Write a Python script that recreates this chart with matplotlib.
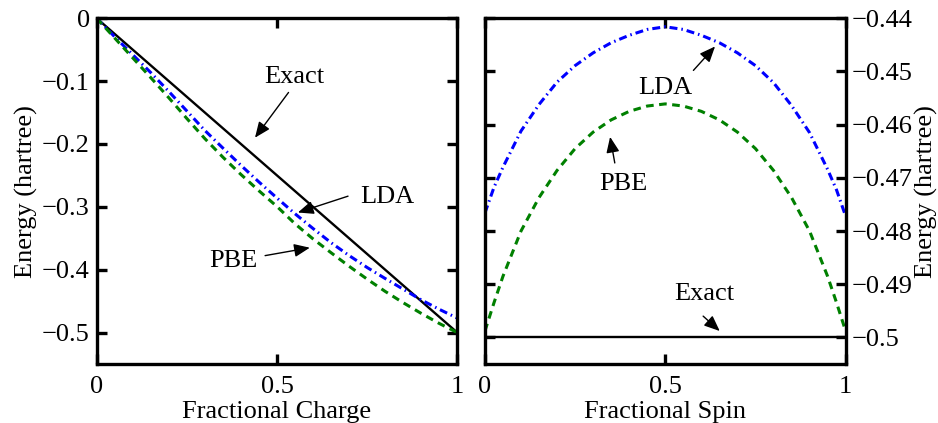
import numpy as np
import matplotlib
matplotlib.use('Agg')
import matplotlib.pyplot as plt

plt.rcParams['font.family'] = ['Liberation Serif', 'DejaVu Serif']
plt.rcParams['font.size'] = 19
plt.rcParams['axes.linewidth'] = 2.4

# fractional charge panel
x_charge = [0, 0.05, 0.1, 0.15, 0.2, 0.25, 0.3, 0.35, 0.4, 0.45, 0.5,
            0.55, 0.6, 0.65, 0.7, 0.75, 0.8, 0.85, 0.9, 0.95, 1.0]
lda_charge = [0, -0.0295, -0.058, -0.0865, -0.1165, -0.1475, -0.1785, -0.2065,
              -0.2340, -0.2605, -0.2860, -0.3110, -0.3345, -0.3570, -0.3775,
              -0.3965, -0.4140, -0.4310, -0.4480, -0.4630, -0.4770]
pbe_charge = [0, -0.0315, -0.063, -0.0945, -0.1265, -0.1595, -0.1915, -0.2210,
              -0.2485, -0.2745, -0.2995, -0.3270, -0.3510, -0.3730, -0.3945,
              -0.4150, -0.4345, -0.4525, -0.4695, -0.4855, -0.5000]
x_exact_charge = [0, 1]
exact_charge = [0, -0.5]

# fractional spin panel
x_spin = [0, 0.025, 0.05, 0.1, 0.15, 0.2, 0.25, 0.3, 0.35, 0.4, 0.45, 0.5,
          0.55, 0.6, 0.65, 0.7, 0.75, 0.8, 0.85, 0.9, 0.95, 0.975, 1.0]
lda_spin = [-0.4766, -0.4718, -0.4680, -0.4612, -0.4562, -0.4520, -0.4489,
            -0.4465, -0.4446, -0.4432, -0.4421, -0.4416, -0.4421, -0.4432,
            -0.4446, -0.4465, -0.4489, -0.4521, -0.4564, -0.4615, -0.4684,
            -0.4723, -0.4772]
pbe_spin = [-0.4988, -0.4935, -0.4885, -0.4800, -0.4737, -0.4686, -0.4645,
            -0.4614, -0.4591, -0.4575, -0.4565, -0.4561, -0.4565, -0.4575,
            -0.4591, -0.4614, -0.4645, -0.4686, -0.4737, -0.4800, -0.4885,
            -0.4935, -0.4988]
x_exact_spin = [0, 1]
exact_spin = [-0.5, -0.5]

xticks = [0, 0.5, 1]
xticklabels = ['0', '0.5', '1']
yticks_charge = [0, -0.1, -0.2, -0.3, -0.4, -0.5]
yticklabels_charge = ['0', '\u22120.1', '\u22120.2', '\u22120.3', '\u22120.4', '\u22120.5']
yticks_spin = [-0.44, -0.45, -0.46, -0.47, -0.48, -0.49, -0.5]
yticklabels_spin = ['\u22120.44', '\u22120.45', '\u22120.46', '\u22120.47',
                    '\u22120.48', '\u22120.49', '\u22120.5']

blue = '#0000ff'
green = '#008000'
dash = (0, (2.5, 1.8))
dashdot = (0, (2.6, 1.3, 0.5, 1.3))
arrow = dict(arrowstyle='-|>,head_length=0.5,head_width=0.21', color='k',
             lw=1.0, shrinkA=0, shrinkB=0)

fig = plt.figure(figsize=(9.38, 4.23), dpi=100)
ax1 = fig.add_axes([0.1031, 0.1395, 0.3844, 0.8173])
ax2 = fig.add_axes([0.5170, 0.1395, 0.3845, 0.8173])

# left
ax1.plot(x_exact_charge, exact_charge, color='k', lw=1.7)
ax1.plot(x_charge, lda_charge, color=blue, lw=2.2, ls=dashdot)
ax1.plot(x_charge, pbe_charge, color=green, lw=2.2, ls=dash)
ax1.set_xlim(0, 1)
ax1.set_ylim(-0.55, 0)
ax1.set_xticks(xticks)
ax1.set_xticklabels(xticklabels)
ax1.set_yticks(yticks_charge)
ax1.set_yticklabels(yticklabels_charge)
ax1.tick_params(direction='in', length=7, width=2.4, top=True, right=True,
                pad=5)
ax1.tick_params(axis='x', pad=9)
ax1.set_xlabel('Fractional Charge')
ax1.set_ylabel('Energy (hartree)')
ax1.xaxis.set_label_coords(0.5, -0.106)
ax1.yaxis.set_label_coords(-0.164, 0.5)

ax1.text(0.547, -0.094, 'Exact', ha='center', va='center')
ax1.annotate('', xy=(0.439, -0.190), xytext=(0.532, -0.118), arrowprops=arrow)
ax1.text(0.805, -0.284, 'LDA', ha='center', va='center')
ax1.annotate('', xy=(0.558, -0.309), xytext=(0.697, -0.283), arrowprops=arrow)
ax1.text(0.378, -0.3855, 'PBE', ha='center', va='center')
ax1.annotate('', xy=(0.591, -0.365), xytext=(0.467, -0.3776), arrowprops=arrow)

# right
ax2.plot(x_exact_spin, exact_spin, color='k', lw=1.7)
ax2.plot(x_spin, lda_spin, color=blue, lw=2.2, ls=dashdot)
ax2.plot(x_spin, pbe_spin, color=green, lw=2.2, ls=dash)
ax2.set_xlim(0, 1)
ax2.set_ylim(-0.505, -0.44)
ax2.set_xticks(xticks)
ax2.set_xticklabels(xticklabels)
ax2.set_yticks(yticks_spin)
ax2.set_yticklabels(yticklabels_spin)
ax2.yaxis.tick_right()
ax2.tick_params(direction='in', length=7, width=2.4, top=True, left=True,
                right=True, labelleft=False, labelright=True, pad=4)
ax2.tick_params(axis='x', pad=9)
ax2.set_xlabel('Fractional Spin')
ax2.yaxis.set_label_position('right')
ax2.set_ylabel('Energy (hartree)', rotation=90)
ax2.xaxis.set_label_coords(0.5, -0.106)
ax2.yaxis.set_label_coords(1.193, 0.5)

ax2.text(0.501, -0.4532, 'LDA', ha='center', va='center')
ax2.annotate('', xy=(0.638, -0.4453), xytext=(0.578, -0.4498), arrowprops=arrow)
ax2.text(0.385, -0.4711, 'PBE', ha='center', va='center')
ax2.annotate('', xy=(0.347, -0.4623), xytext=(0.360, -0.4672), arrowprops=arrow)
ax2.text(0.607, -0.4919, 'Exact', ha='center', va='center')
ax2.annotate('', xy=(0.651, -0.4988), xytext=(0.605, -0.4960), arrowprops=arrow)

fig.savefig('out.png', dpi=100)
